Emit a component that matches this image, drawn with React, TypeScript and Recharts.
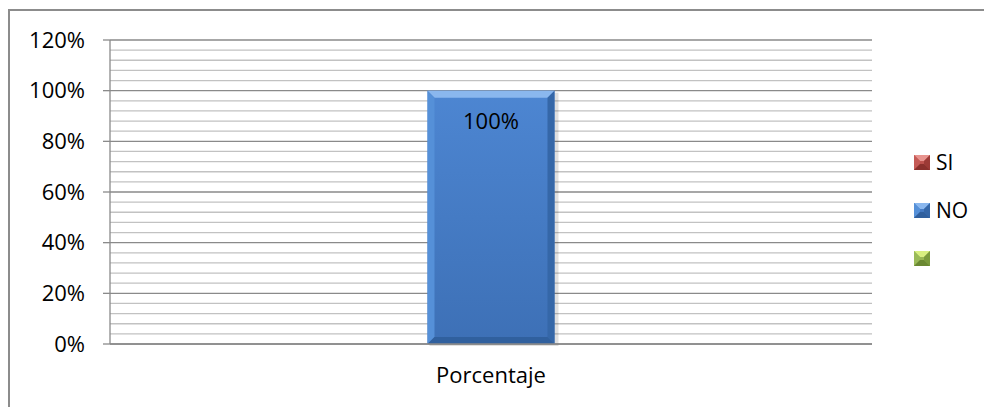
import { BarChart, Bar, XAxis, YAxis, CartesianGrid, LabelList } from "recharts";

const categories = ["Porcentaje"];
const siValues = [0];
const noValues = [100];
const blankValues = [0];

// every 4% gets a gridline, every 20% gets a label
const gridTicks = [0, 4, 8, 12, 16, 20, 24, 28, 32, 36, 40, 44, 48, 52, 56, 60, 64, 68, 72, 76, 80, 84, 88, 92, 96, 100, 104, 108, 112, 116, 120];
const labelTicks = [0, 20, 40, 60, 80, 100, 120];

const FONT = "'Open Sans', sans-serif";

type Palette = { face1: string; face2: string; top: string; left: string; right: string; bottom: string };

const palettes: Record<string, Palette> = {
  SI: { face1: "#c9605c", face2: "#b2443f", top: "#e8948f", left: "#c55a56", right: "#9c3a36", bottom: "#8a302c" },
  NO: { face1: "#4d86d2", face2: "#3d70b6", top: "#8ab7ee", left: "#5590d8", right: "#3567a8", bottom: "#30609e" },
  blank: { face1: "#a2c05e", face2: "#8eae4a", top: "#d8ef80", left: "#9aba58", right: "#7a9a3c", bottom: "#6a8832" },
};

const series = [
  { key: "SI", label: "SI" },
  { key: "NO", label: "NO" },
  { key: "blank", label: "" },
];

const data = categories.map((c, i) => ({
  name: c,
  SI: siValues[i],
  NO: noValues[i],
  blank: blankValues[i],
}));

function Bevel({ x, y, w, h, b, pal, id }: { x: number; y: number; w: number; h: number; b: number; pal: Palette; id: string }) {
  return (
    <g>
      <defs>
        <linearGradient id={id} x1="0" y1="0" x2="0" y2="1">
          <stop offset="0%" stopColor={pal.face1} />
          <stop offset="100%" stopColor={pal.face2} />
        </linearGradient>
      </defs>
      <rect x={x} y={y} width={w} height={h} fill={`url(#${id})`} />
      <polygon points={`${x},${y} ${x + w},${y} ${x + w - b},${y + b} ${x + b},${y + b}`} fill={pal.top} />
      <polygon points={`${x},${y} ${x + b},${y + b} ${x + b},${y + h - b} ${x},${y + h}`} fill={pal.left} />
      <polygon points={`${x + w},${y} ${x + w},${y + h} ${x + w - b},${y + h - b} ${x + w - b},${y + b}`} fill={pal.right} />
      <polygon points={`${x},${y + h} ${x + b},${y + h - b} ${x + w - b},${y + h - b} ${x + w},${y + h}`} fill={pal.bottom} />
    </g>
  );
}

const makeShape = (key: string) => (props: any) => {
  const { x, y, width, height } = props;
  if (!height || height <= 0) return <g />;
  return (
    <g>
      <rect x={x + 2} y={y + 2} width={width + 2} height={height} fill="#000" opacity={0.12} />
      <Bevel x={x} y={y} w={width} h={height} b={7} pal={palettes[key]} id={`grad-${key}`} />
    </g>
  );
};

const YTick = (props: any) => {
  const { x, y, payload } = props;
  if (!labelTicks.includes(payload.value)) return <g />;
  return (
    <g>
      <line x1={x + 18} x2={x + 25} y1={y} y2={y} stroke="#8a8a8a" strokeWidth={1.3} />
      <text x={x} y={y} dy="0.355em" textAnchor="end" fill="#000" fontSize={22} fontFamily={FONT}>
        {`${payload.value}%`}
      </text>
    </g>
  );
};

const GridLine = (props: any) => {
  const { x1, y1, x2, y2, index } = props;
  const major = index % 5 === 0;
  return <line x1={x1} y1={y1} x2={x2} y2={y2} stroke={major ? "#8a8a8a" : "#c2c2c2"} strokeWidth={1.3} />;
};

function Legend() {
  return (
    <div style={{ position: "absolute", left: 914, top: 138, fontFamily: FONT, fontSize: 21 }}>
      {series.map((s) => (
        <div key={s.key} style={{ display: "flex", alignItems: "center", height: 48.2 }}>
          <svg width={16} height={15} style={{ marginRight: 6 }}>
            <Bevel x={0} y={0} w={16} h={15} b={6} pal={palettes[s.key]} id={`lg-${s.key}`} />
          </svg>
          <span style={{ color: "#000" }}>{s.label}</span>
        </div>
      ))}
    </div>
  );
}

export default function App() {
  return (
    <div style={{ position: "absolute", left: 0, top: 0, width: 984, height: 407, background: "#fff", overflow: "hidden" }}>
      <div
        style={{
          position: "absolute",
          left: 8,
          top: 9,
          width: 1000,
          height: 420,
          borderTop: "2px solid #8c8c8c",
          borderLeft: "2px solid #8c8c8c",
        }}
      />
      <BarChart
        width={984}
        height={407}
        data={data}
        margin={{ top: 40, right: 112, left: 0, bottom: 33 }}
        barCategoryGap="25%"
        barGap={0}
        style={{ position: "absolute", left: 0, top: 0 }}
      >
        <CartesianGrid vertical={false} horizontal={(p: any) => <GridLine key={p.key} {...p} />} />
        <XAxis
          dataKey="name"
          height={30}
          tickLine={false}
          tickSize={0}
          tickMargin={23}
          axisLine={{ stroke: "#8a8a8a", strokeWidth: 1.3 }}
          tick={{ fill: "#000", fontSize: 22, fontFamily: FONT }}
        />
        <YAxis
          width={110}
          domain={[0, 120]}
          ticks={gridTicks}
          interval={0}
          tickSize={7}
          tickMargin={18}
          axisLine={{ stroke: "#8a8a8a", strokeWidth: 1.3 }}
          tickLine={false}
          tick={<YTick />}
        />
        {series.map((s) => (
          <Bar key={s.key} dataKey={s.key} name={s.label} isAnimationActive={false} shape={makeShape(s.key)}>
            {s.key === "NO" && (
              <LabelList
                dataKey="NO"
                position="insideTop"
                offset={23}
                formatter={(v: any) => `${v}%`}
                style={{ fill: "#000", fontSize: 22, fontFamily: FONT }}
              />
            )}
          </Bar>
        ))}
      </BarChart>
      <Legend />
    </div>
  );
}
